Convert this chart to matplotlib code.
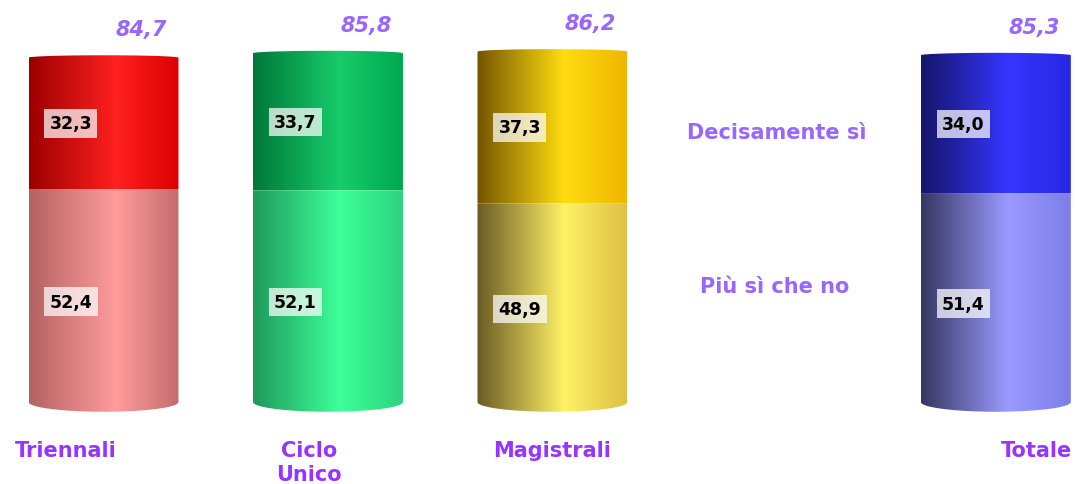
import numpy as np
import matplotlib.pyplot as plt
from matplotlib.path import Path
from matplotlib.patches import PathPatch
from matplotlib.colors import LinearSegmentedColormap

categories = ['Triennali', 'Ciclo\nUnico', 'Magistrali', 'Totale']
positions = [0, 1, 2, 3.975]
piu_si = [52.4, 52.1, 48.9, 51.4]
decisamente = [32.3, 33.7, 37.3, 34.0]
totals = [84.7, 85.8, 86.2, 85.3]
series_names = ['Decisamente sì', 'Più sì che no']

# left edge, highlight, right edge
top_cols = [('#9c0000', '#ff2020', '#dc0000'),
            ('#00783a', '#18cc6a', '#00a850'),
            ('#735500', '#ffdc10', '#f0b600'),
            ('#15156a', '#3535ff', '#2828e2')]
bot_cols = [('#b46262', '#ff9c9c', '#c46c6c'),
            ('#1f9a5c', '#3dff99', '#2cd47e'),
            ('#6a5a24', '#fff266', '#dec044'),
            ('#363660', '#9a9aff', '#7e7ee8')]

width = 0.668
b_bot = 2.4   # depth of the bottom ellipse
b_top = 0.6

fig = plt.figure(figsize=(10.76, 4.85), dpi=100)
ax = fig.add_axes([0, 0, 1, 1])
purple = '#9966ff'
cat_purple = '#9933ff'


def cylinder_part(x, y0, y1, cols, arc_bottom=0.0, arc_top=0.0):
    a = width / 2
    t = np.linspace(np.pi, 2 * np.pi, 60)
    xs_b = x + a * np.cos(t)
    ys_b = y0 + arc_bottom * np.sin(t)
    t2 = np.linspace(0, np.pi, 60)
    xs_t = x + a * np.cos(t2)
    ys_t = y1 + arc_top * np.sin(t2)
    verts = np.vstack([np.column_stack([xs_b, ys_b]),
                       np.column_stack([xs_t, ys_t]),
                       [[xs_b[0], ys_b[0]]]])
    patch = PathPatch(Path(verts, closed=True), facecolor='none',
                      edgecolor='none', transform=ax.transData)
    ax.add_patch(patch)
    cmap = LinearSegmentedColormap.from_list(
        'c', [(0, cols[0]), (0.58, cols[1]), (1, cols[2])])
    grad = np.linspace(0, 1, 256).reshape(1, -1)
    im = ax.imshow(grad, cmap=cmap, aspect='auto', interpolation='bilinear',
                   extent=[x - a, x + a, y0 - arc_bottom, y1 + arc_top])
    im.set_clip_path(patch)


def fmt(v):
    return f'{v:.1f}'.replace('.', ',')


for i, p in enumerate(positions):
    cylinder_part(p, 0, piu_si[i], bot_cols[i], arc_bottom=b_bot)
    cylinder_part(p, piu_si[i], totals[i], top_cols[i], arc_top=b_top)

    box = dict(boxstyle='square,pad=0.3', facecolor='white', alpha=0.72,
               edgecolor='none')
    ax.text(p - 0.145, piu_si[i] + decisamente[i] / 2, fmt(decisamente[i]),
            ha='center', va='center', fontsize=12.5, fontweight='heavy', bbox=box)
    ax.text(p - 0.145, piu_si[i] / 2 - 1.5, fmt(piu_si[i]),
            ha='center', va='center', fontsize=12.5, fontweight='heavy', bbox=box)
    ax.text(p + 0.17, totals[i] + 7, fmt(totals[i]),
            ha='center', va='center', fontsize=15, fontweight='heavy',
            fontstyle='italic', color=purple)

label_dx = [-0.17, -0.085, 0.0, 0.18]
for i, p in enumerate(positions):
    ax.text(p + label_dx[i], -9.4, categories[i], ha='center', va='top',
            fontsize=15, fontweight='heavy', color=cat_purple, linespacing=1.25)

ax.text(3.0, 66.5, series_names[0], ha='center', va='center', fontsize=15,
        fontweight='heavy', color=purple)
ax.text(2.99, 28.5, series_names[1], ha='center', va='center', fontsize=15,
        fontweight='heavy', color=purple)

ax.set_xlim(-0.461, 4.332)
ax.set_ylim(-20.17, 99.14)
ax.axis('off')

plt.savefig('out.png', dpi=100)
